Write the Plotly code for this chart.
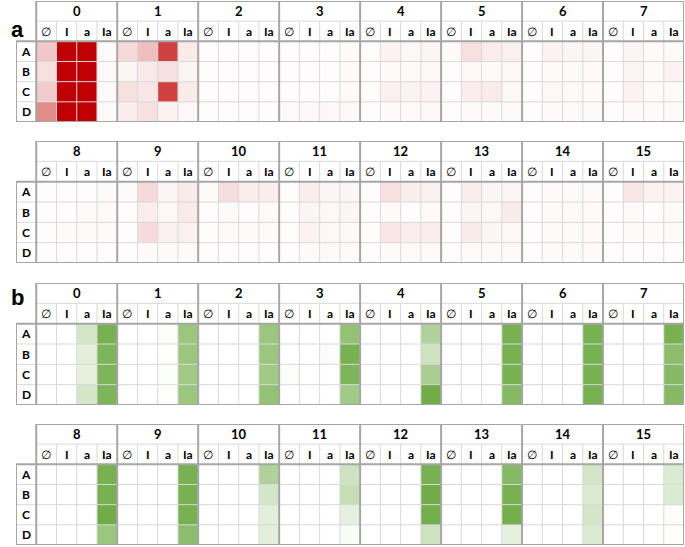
import plotly.graph_objects as go

# Categories
groups = [str(i) for i in range(16)]
subcols = ['∅', 'I', 'a', 'Ia']
rows = ['A', 'B', 'C', 'D']

# Panel a (red) values, 16 groups x 4 sub-columns per row
a_A = [22,100,100,2, 15,25,75,8, 1,1,1,1, 1,1,1,2, 1,5,3,4, 2,12,7,6, 1,5,4,4, 1,4,2,2,
       1,1,1,2, 2,15,4,8, 2,13,7,7, 1,7,4,4, 1,12,7,6, 1,7,4,4, 1,2,2,2, 1,10,5,5]
a_B = [12,100,100,2, 4,8,12,4, 1,1,1,1, 1,1,1,2, 1,2,2,3, 1,3,2,3, 1,2,2,2, 1,4,2,5,
       1,1,2,2, 1,7,3,8, 1,2,1,2, 1,4,3,4, 1,2,1,2, 1,4,3,8, 1,2,2,2, 1,2,1,2]
a_C = [20,100,100,2, 12,10,75,8, 1,1,1,1, 1,1,1,2, 1,6,5,5, 1,7,8,3, 1,3,2,2, 1,5,2,2,
       1,2,2,2, 1,14,6,6, 1,2,2,2, 1,5,3,3, 1,10,7,7, 1,8,4,3, 1,2,2,2, 1,2,2,2]
a_D = [45,100,100,2, 7,12,5,3, 1,1,1,1, 2,3,3,3, 1,2,2,3, 1,2,2,2, 1,2,2,2, 1,2,2,2,
       1,1,1,1, 1,2,2,2, 1,1,1,1, 1,2,2,2, 1,2,2,2, 1,2,2,2, 1,2,2,2, 1,1,1,1]

# Panel b (green) values
b_A = [0,0,30,95, 0,0,3,70, 0,0,0,70, 0,0,0,75, 0,0,0,55, 0,0,0,95, 0,0,0,95, 0,0,0,95,
       0,0,0,95, 0,0,0,95, 0,0,0,55, 0,0,0,35, 0,0,0,95, 0,0,0,85, 0,0,0,30, 0,0,0,25]
b_B = [0,0,20,90, 0,0,1,70, 0,0,0,70, 0,0,2,95, 0,0,0,35, 0,0,2,95, 0,0,0,95, 0,0,0,80,
       0,0,0,95, 0,0,0,95, 0,0,0,30, 0,0,0,40, 0,0,0,100, 0,0,0,95, 0,0,0,25, 0,0,0,25]
b_C = [0,0,18,90, 0,0,3,65, 0,0,0,65, 2,0,0,90, 0,0,0,60, 0,0,0,95, 0,0,0,95, 0,0,0,85,
       0,0,0,100, 0,0,0,95, 0,0,0,20, 0,0,0,18, 0,0,0,98, 0,0,0,98, 0,0,0,30, 0,0,0,2]
b_D = [0,0,30,90, 0,0,1,70, 0,0,0,75, 0,0,0,65, 0,0,0,100, 0,0,0,85, 0,0,0,95, 0,0,0,85,
       0,0,0,70, 0,0,0,80, 0,0,0,20, 0,0,0,5, 0,0,0,35, 0,0,0,18, 0,0,0,25, 0,0,0,1]

W, H = 685, 547
FONT = 'Lato'
THIN = '#D9D9D9'
THICK = '#A6A6A6'

# (panel rows, colour, first group, top px, bottom px)
tables = [
    ([a_A, a_B, a_C, a_D], '#C00000', 0, 1, 122),
    ([a_A, a_B, a_C, a_D], '#C00000', 8, 141, 263),
    ([b_A, b_B, b_C, b_D], '#70AD47', 0, 283, 405),
    ([b_A, b_B, b_C, b_D], '#70AD47', 8, 424, 545),
]

fig = go.Figure()
shapes = []
annotations = []

for k, (data, color, g0, top, bot) in enumerate(tables, start=1):
    xa = 'x' if k == 1 else 'x%d' % k
    ya = 'y' if k == 1 else 'y%d' % k
    z = [r[g0*4:g0*4+32] for r in data]
    fig.add_trace(go.Heatmap(
        z=z, x=[i + 0.5 for i in range(32)], y=[i + 0.5 for i in range(4)],
        colorscale=[[0, '#FFFFFF'], [1, color]], zmin=0, zmax=100,
        showscale=False, xaxis=xa, yaxis=ya, hoverinfo='z'))
    fig.update_layout(**{
        ('xaxis' if k == 1 else 'xaxis%d' % k): dict(
            domain=[16/W, 684/W], range=[-1, 32], visible=False, fixedrange=True),
        ('yaxis' if k == 1 else 'yaxis%d' % k): dict(
            domain=[1 - bot/H, 1 - top/H], range=[4, -2], visible=False, fixedrange=True),
    })

    def line(x0, y0, x1, y1, c, w):
        shapes.append(dict(type='line', xref=xa, yref=ya, x0=x0, y0=y0, x1=x1, y1=y1,
                           line=dict(color=c, width=w)))

    # thin grid
    for x in range(1, 32):
        if x % 4:
            line(x, -1, x, 4, THIN, 1)
    line(0, -1, 32, -1, THIN, 1)
    for y in (1, 2, 3):
        line(-1, y, 32, y, THIN, 1)
    # thick borders
    for x in range(0, 33, 4):
        line(x, -2, x, 4, THICK, 2)
    line(-1, 0, -1, 4, THICK, 2)
    line(0, -2, 32, -2, THICK, 2)
    line(-1, 0, 32, 0, THICK, 2)
    line(-1, 4, 32, 4, THICK, 2)

    # header text
    for b in range(8):
        annotations.append(dict(xref=xa, yref=ya, x=b*4 + 2, y=-1.5, text=groups[g0 + b],
                                showarrow=False, font=dict(family=FONT, size=13,
                                                           weight='bold', color='#000')))
        for i, s in enumerate(subcols):
            annotations.append(dict(xref=xa, yref=ya, x=b*4 + i + 0.5, y=-0.5, text=s,
                                    showarrow=False,
                                    font=dict(family=FONT, size=12, color='#000',
                                              weight='normal' if i == 0 else 'bold')))
    for r, s in enumerate(rows):
        annotations.append(dict(xref=xa, yref=ya, x=-0.5, y=r + 0.5, text=s, showarrow=False,
                                font=dict(family=FONT, size=12, weight='bold', color='#000')))

for lab, py in (('a', 15), ('b', 297)):
    annotations.append(dict(xref='paper', yref='paper', x=9/W, y=1 - py/H, text=lab,
                            showarrow=False, font=dict(family='Liberation Sans', size=22,
                                                       weight='bold', color='#000')))

fig.update_layout(width=W, height=H, margin=dict(l=0, r=0, t=0, b=0),
                  plot_bgcolor='white', paper_bgcolor='white',
                  shapes=shapes, annotations=annotations, showlegend=False)

# page body has a default 8px margin; drop it so the figure fills the window
fig.write_html("out.html", config={'displayModeBar': False},
               post_script="document.body.style.margin='0px';")
